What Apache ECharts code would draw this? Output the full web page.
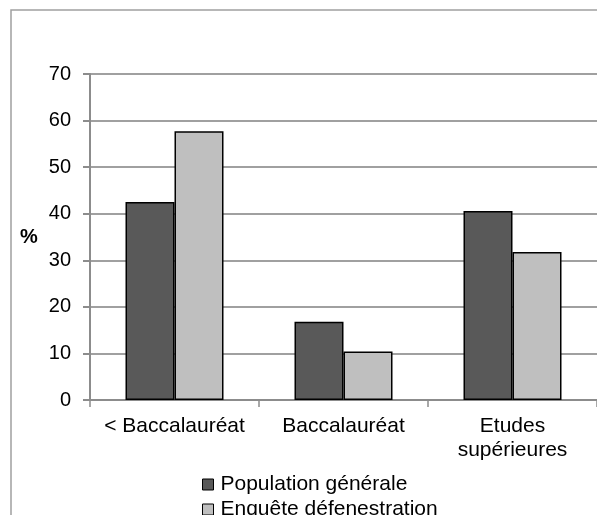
<!DOCTYPE html>
<html>
<head>
<meta charset="utf-8">
<script src="https://cdn.jsdelivr.net/npm/echarts@6/dist/echarts.min.js"></script>
<style>
  html, body { margin: 0; padding: 0; background: #fff; }
  #chart { width: 597px; height: 515px; }
</style>
</head>
<body>
<div id="chart"></div>
<script>
// Niveau de diplôme : population générale vs enquête défenestration (%)
const categories = ['< Baccalauréat', 'Baccalauréat', 'Etudes\nsupérieures'];
const seriesNames = ['Population générale', 'Enquête défenestration'];
const populationGenerale = [42.5, 16.8, 40.6];
const enqueteDefenestration = [57.7, 10.4, 31.8];
const yTicks = [0, 10, 20, 30, 40, 50, 60, 70];

const FONT = '"Liberation Sans", Arial, sans-serif';
const chart = echarts.init(document.getElementById('chart'), null, { renderer: 'canvas' });

chart.setOption({
  backgroundColor: '#ffffff',
  animation: false,
  graphic: [{
    type: 'rect',
    shape: { x: 11, y: 10, width: 620, height: 540 },
    style: { fill: 'none', stroke: '#a0a0a0', lineWidth: 1.5 },
    silent: true,
    z: -1
  }],
  grid: { left: 90, right: -2, top: 74, bottom: 115, containLabel: false },
  legend: {
    type: 'plain',
    orient: 'vertical',
    left: 202,
    top: 474,
    height: 80,
    padding: 0,
    itemWidth: 11,
    itemHeight: 11,
    itemGap: 4,
    icon: 'rect',
    data: seriesNames,
    itemStyle: { borderColor: '#000', borderWidth: 1 },
    textStyle: { fontFamily: FONT, fontSize: 21, color: '#000', lineHeight: 21, padding: [0, 0, 0, 2] }
  },
  xAxis: {
    type: 'category',
    data: categories,
    axisLine: { lineStyle: { color: '#8c8c8c', width: 2 } },
    axisTick: { show: true, length: 7, lineStyle: { color: '#8c8c8c', width: 1.5 } },
    axisLabel: { fontFamily: FONT, fontSize: 21, color: '#000', margin: 14, lineHeight: 24, interval: 0 }
  },
  yAxis: {
    type: 'value',
    min: yTicks[0],
    max: yTicks[yTicks.length - 1],
    interval: 10,
    name: '%',
    nameLocation: 'middle',
    nameRotate: 0,
    nameGap: 61,
    nameTextStyle: { fontFamily: FONT, fontSize: 20, fontWeight: 'bold', color: '#000', align: 'center', verticalAlign: 'middle' },
    axisLine: { show: true, lineStyle: { color: '#8c8c8c', width: 2 } },
    axisTick: { show: true, length: 7, lineStyle: { color: '#8c8c8c', width: 2 } },
    axisLabel: { fontFamily: FONT, fontSize: 20, color: '#000', margin: 19 },
    splitLine: { lineStyle: { color: '#a0a0a0', width: 2 } }
  },
  series: [
    {
      name: seriesNames[0],
      type: 'bar',
      data: populationGenerale,
      barWidth: 49,
      barGap: '0%',
      itemStyle: { color: '#595959', borderColor: '#000', borderWidth: 1.5 }
    },
    {
      name: seriesNames[1],
      type: 'bar',
      data: enqueteDefenestration,
      barWidth: 49,
      barGap: '0%',
      itemStyle: { color: '#bfbfbf', borderColor: '#000', borderWidth: 1.5 }
    }
  ]
});
</script>
</body>
</html>
